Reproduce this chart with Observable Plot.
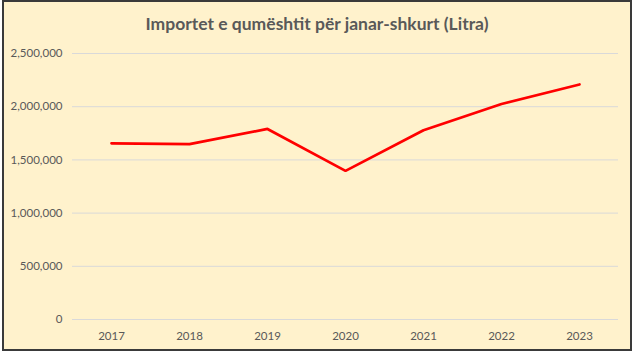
<!DOCTYPE html>
<html>
<head>
<meta charset="utf-8">
<script src="https://cdn.jsdelivr.net/npm/d3@7"></script>
<script src="https://cdn.jsdelivr.net/npm/@observablehq/plot@0.6"></script>
<style>
  html, body { margin: 0; padding: 0; background: #fff; }
  #frame {
    box-sizing: border-box;
    margin-left: 2px;
    width: 630px; height: 351px;
    border: 2px solid #3a3a3a;
    background: #FFF2CC;
    overflow: hidden;
  }
  #title {
    height: 41px;
    line-height: 43px;
    text-align: center;
    font-family: Lato, "Open Sans", sans-serif;
    font-weight: bold;
    font-size: 17.5px;
    color: #595959;
  }
</style>
</head>
<body>
<div id="frame">
  <div id="title">Importet e qumështit për janar-shkurt (Litra)</div>
  <div id="chart"></div>
</div>
<script>
const years = ["2017", "2018", "2019", "2020", "2021", "2022", "2023"];
const imports = [1656000, 1648000, 1791000, 1397000, 1779000, 2025000, 2209000];
const yTicks = [0, 500000, 1000000, 1500000, 2000000, 2500000];

const data = years.map((y, i) => ({year: y, value: imports[i]}));

const chart = Plot.plot({
  width: 626,
  height: 306,
  marginTop: 10,
  marginBottom: 30,
  marginLeft: 68,
  marginRight: 12,
  style: {
    background: "transparent",
    fontFamily: "Lato, 'Open Sans', sans-serif",
    fontSize: "11.5px",
    color: "#595959"
  },
  x: {type: "point", domain: years, padding: 0.5, label: null},
  y: {domain: [0, 2500000], label: null},
  marks: [
    Plot.gridY(yTicks, {stroke: "#D9D9D9", strokeOpacity: 1, strokeWidth: 1}),
    Plot.axisY(yTicks, {tickSize: 0, tickPadding: 10, tickFormat: d3.format(","), label: null, fill: "#595959"}),
    Plot.axisX({tickSize: 0, tickPadding: 12, label: null, fill: "#595959"}),
    Plot.line(data, {x: "year", y: "value", stroke: "#FF0000", strokeWidth: 2.75, strokeLinejoin: "miter"})
  ]
});
document.getElementById("chart").appendChild(chart);
</script>
</body>
</html>
